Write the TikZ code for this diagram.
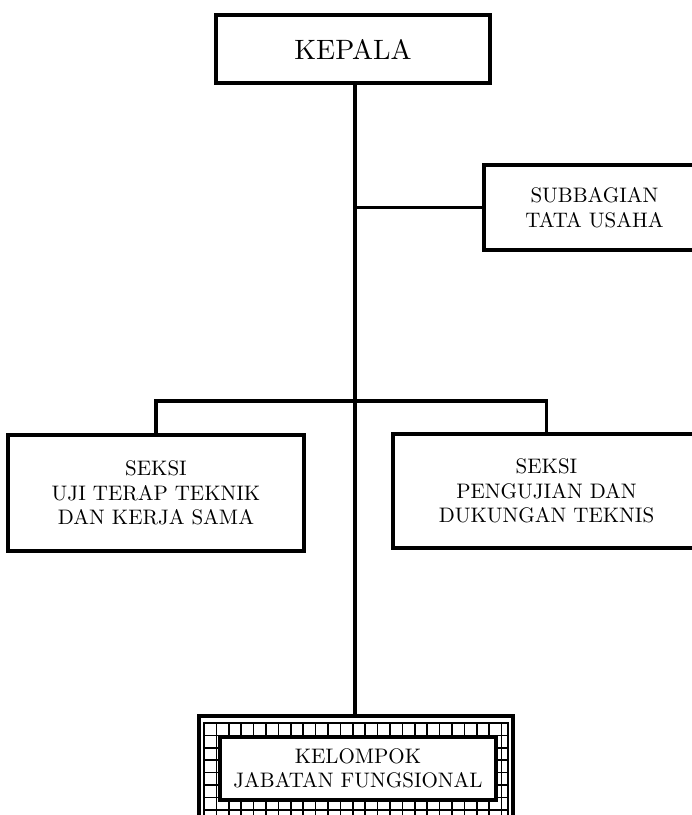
\documentclass[tikz,border=0pt]{standalone}
\usepackage{fontspec}
\setmainfont{lmroman10-regular.otf}
\begin{document}
\begin{tikzpicture}[x=1pt,y=-1pt,
  box/.style={draw, line width=3.5pt, fill=white, align=center, inner sep=0pt,
    font=\fontsize{21}{24.5}\selectfont},
  conn/.style={line width=3.5pt},
  gridline/.style={line width=1.7pt}]
\useasboundingbox (0,0) rectangle (692,815);
\clip (0,0) rectangle (692,815);
\coordinate (m) at (355,0);
\coordinate (bar) at (0,401);

% grid background of the functional group
\draw[gridline] (204,723) rectangle (508,840);
\foreach \i in {0,...,24} \draw[gridline] (204+\i*12.4,723) -- (204+\i*12.4,840);
\foreach \k in {0,...,9} \draw[gridline] (204,723+\k*12.4) -- (508,723+\k*12.4);
\node[draw, line width=3.5pt, minimum width=314pt, minimum height=120pt, inner sep=0pt] (outer) at (356,776) {};

% nodes
\node[box, minimum width=274pt, minimum height=68pt, font=\fontsize{28}{32}\selectfont] (kepala) at (353,49) {KEPALA};
\node[box, minimum width=221pt, minimum height=85pt] (sub) at (594.5,207.5) {SUBBAGIAN\\TATA USAHA};
\node[box, minimum width=296pt, minimum height=116pt] (left) at (156,493) {SEKSI\\UJI TERAP TEKNIK\\DAN KERJA SAMA};
\node[box, minimum width=307pt, minimum height=114pt] (right) at (546.5,491) {SEKSI\\PENGUJIAN DAN\\DUKUNGAN TEKNIS};
\node[box, line width=4.5pt, minimum width=276pt, minimum height=63pt] (inner) at (358,768.5) {KELOMPOK\\JABATAN FUNGSIONAL};

% connectors
\draw[conn] (kepala.south -| m) -- (outer.north -| m);
\draw[conn] (m |- sub.west) -- (sub.west);
\draw[conn] (left.north) -- (left.north |- bar) -- (right.north |- bar) -- (right.north);
\end{tikzpicture}
\end{document}
